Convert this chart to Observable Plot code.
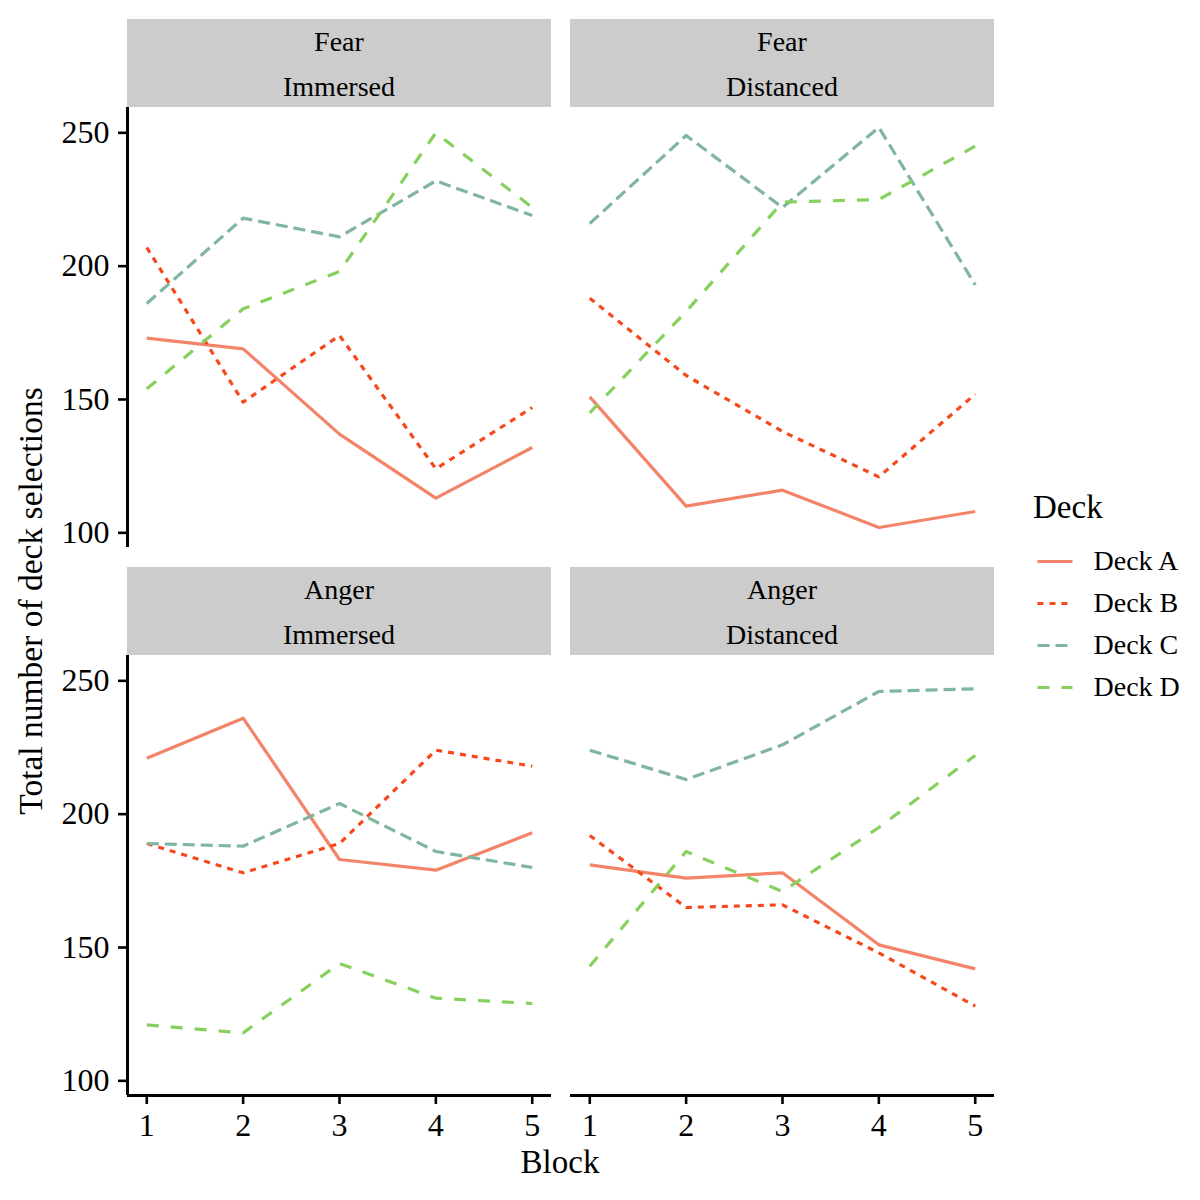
<!DOCTYPE html>
<html><head><meta charset="utf-8">
<script src="https://cdn.jsdelivr.net/npm/d3@7"></script>
<script src="https://cdn.jsdelivr.net/npm/@observablehq/plot@0.6"></script>
<style>
body{margin:0;background:#fff;}
#root{position:relative;width:1200px;height:1200px;font-family:"Liberation Serif","Times New Roman",serif;color:#000;background:#fff;overflow:hidden}
#root > svg, #root > .p{position:absolute}
</style></head><body><div id="root"></div>
<script>
// ---- data ----
const blocks = [1, 2, 3, 4, 5];
const decks = ["Deck A", "Deck B", "Deck C", "Deck D"];
const deckColors = ["#f3846a", "#f7481c", "#80b5a0", "#86d15e"];
const deckDashes = [null, "6,6", "12,6", "12,12"];
const emotions = ["Fear", "Anger"];
const views = ["Immersed", "Distanced"];
const yTicks = [100, 150, 200, 250];
// rows: Deck A, Deck B, Deck C, Deck D ; columns: blocks 1..5
const fearImmersed = [
  [173, 169, 137, 113, 132],
  [207, 149, 174, 124, 147],
  [186, 218, 211, 232, 219],
  [154, 184, 198, 250, 222]
];
const fearDistanced = [
  [151, 110, 116, 102, 108],
  [188, 159, 138, 121, 152],
  [216, 249, 222, 252, 193],
  [145, 183, 224, 225, 245]
];
const angerImmersed = [
  [221, 236, 183, 179, 193],
  [189, 178, 189, 224, 218],
  [189, 188, 204, 186, 180],
  [121, 118, 144, 131, 129]
];
const angerDistanced = [
  [181, 176, 178, 151, 142],
  [192, 165, 166, 148, 128],
  [224, 213, 226, 246, 247],
  [143, 186, 171, 195, 222]
];
const panels = [[fearImmersed, fearDistanced], [angerImmersed, angerDistanced]];

// ---- layout ----
const root = document.getElementById("root");
const FONT = "Liberation Serif, Times New Roman, serif";
const panelLeft = [127, 570], panelTop = [107, 655], PW = 424, PH = 440, stripH = 88;
const LW = 3.2;

const all = panels.flat(3);
const [mn, mx] = d3.extent(all);
const yDomain = [mn - 0.05 * (mx - mn), mx + 0.05 * (mx - mn)];
const xDomain = [1 - 0.05 * 4, 5 + 0.05 * 4];

// overlay for strips and titles
const ov = d3.select(root).append("svg").attr("width", 1200).attr("height", 1200)
  .style("left", "0px").style("top", "0px").style("font-family", FONT);

for (let r = 0; r < 2; r++) for (let c = 0; c < 2; c++) {
  const sx = panelLeft[c], sy = panelTop[r] - stripH;
  ov.append("rect").attr("x", sx).attr("y", sy).attr("width", PW).attr("height", stripH).attr("fill", "#cccccc");
  ov.append("text").attr("x", sx + PW / 2).attr("y", sy + 32).attr("text-anchor", "middle").attr("font-size", 28).text(emotions[r]);
  ov.append("text").attr("x", sx + PW / 2).attr("y", sy + 76.5).attr("text-anchor", "middle").attr("font-size", 28).text(views[c]);
}
ov.append("text").attr("x", 560).attr("y", 1173).attr("text-anchor", "middle").attr("font-size", 33).text("Block");
ov.append("text").attr("transform", "translate(42,601) rotate(-90)").attr("text-anchor", "middle").attr("font-size", 33.5).text("Total number of deck selections");
ov.append("text").attr("x", 1033).attr("y", 518).attr("font-size", 33).text("Deck");

function panel(values, r, c) {
  const rows = values.flatMap((vals, i) => vals.map((v, j) => ({block: blocks[j], deck: decks[i], value: v})));
  const showY = c === 0, showX = r === 1;
  const marks = [];
  decks.forEach((d, i) => {
    const opt = {x: "block", y: "value", stroke: deckColors[i], strokeWidth: LW, strokeLinecap: "butt", strokeLinejoin: "round"};
    if (deckDashes[i]) opt.strokeDasharray = deckDashes[i];
    marks.push(Plot.line(rows.filter(o => o.deck === d), opt));
  });
  if (showY) {
    marks.push(Plot.axisY({ticks: yTicks, tickSize: 9, tickPadding: 9, fontSize: 32, strokeWidth: 2.6, label: null, tickFormat: d => d}));
    marks.push(Plot.ruleX([xDomain[0]], {strokeWidth: 3, stroke: "black"}));
  }
  if (showX) {
    marks.push(Plot.axisX({ticks: blocks, tickSize: 9, tickPadding: 9, fontSize: 32, strokeWidth: 2.6, label: null, tickFormat: d => d}));
    marks.push(Plot.ruleY([yDomain[0]], {strokeWidth: 3, stroke: "black"}));
  }
  const mL = c === 0 ? panelLeft[0] : 0;
  const mB = showX ? 60 : 0;
  const chart = Plot.plot({
    width: mL + PW + 8, height: PH + mB,
    marginLeft: mL, marginRight: 8, marginTop: 0, marginBottom: mB,
    x: {domain: xDomain, axis: showX ? undefined : null},
    y: {domain: yDomain, axis: showY ? undefined : null},
    style: {fontFamily: FONT, color: "black", background: "transparent", overflow: "visible"},
    marks
  });
  chart.style.position = "absolute";
  chart.style.left = (c === 0 ? 0 : panelLeft[1]) + "px";
  chart.style.top = panelTop[r] + "px";
  root.appendChild(chart);
}
for (let r = 0; r < 2; r++) for (let c = 0; c < 2; c++) panel(panels[r][c], r, c);

// legend
const legRows = decks.flatMap(d => [{deck: d, t: 0}, {deck: d, t: 1}]);
const legMarks = decks.map((d, i) => {
  const opt = {x: "t", y: "deck", stroke: deckColors[i], strokeWidth: LW, strokeLinecap: "butt"};
  if (deckDashes[i]) opt.strokeDasharray = deckDashes[i];
  return Plot.line(legRows.filter(o => o.deck === d), opt);
});
legMarks.push(Plot.text(decks, {x: () => 1, y: d => d, text: d => d, dx: 21, textAnchor: "start", fontSize: 28, fill: "black"}));
const legend = Plot.plot({
  width: 200, height: 190, margin: 0,
  x: {domain: [0, 1], range: [37, 72], axis: null},
  y: {type: "point", domain: decks, range: [30, 157], padding: 0, axis: null},
  style: {fontFamily: FONT, color: "black", background: "transparent", overflow: "visible"},
  marks: legMarks
});
legend.style.position = "absolute";
legend.style.left = "1000px";
legend.style.top = "530px";
root.appendChild(legend);
</script></body></html>
